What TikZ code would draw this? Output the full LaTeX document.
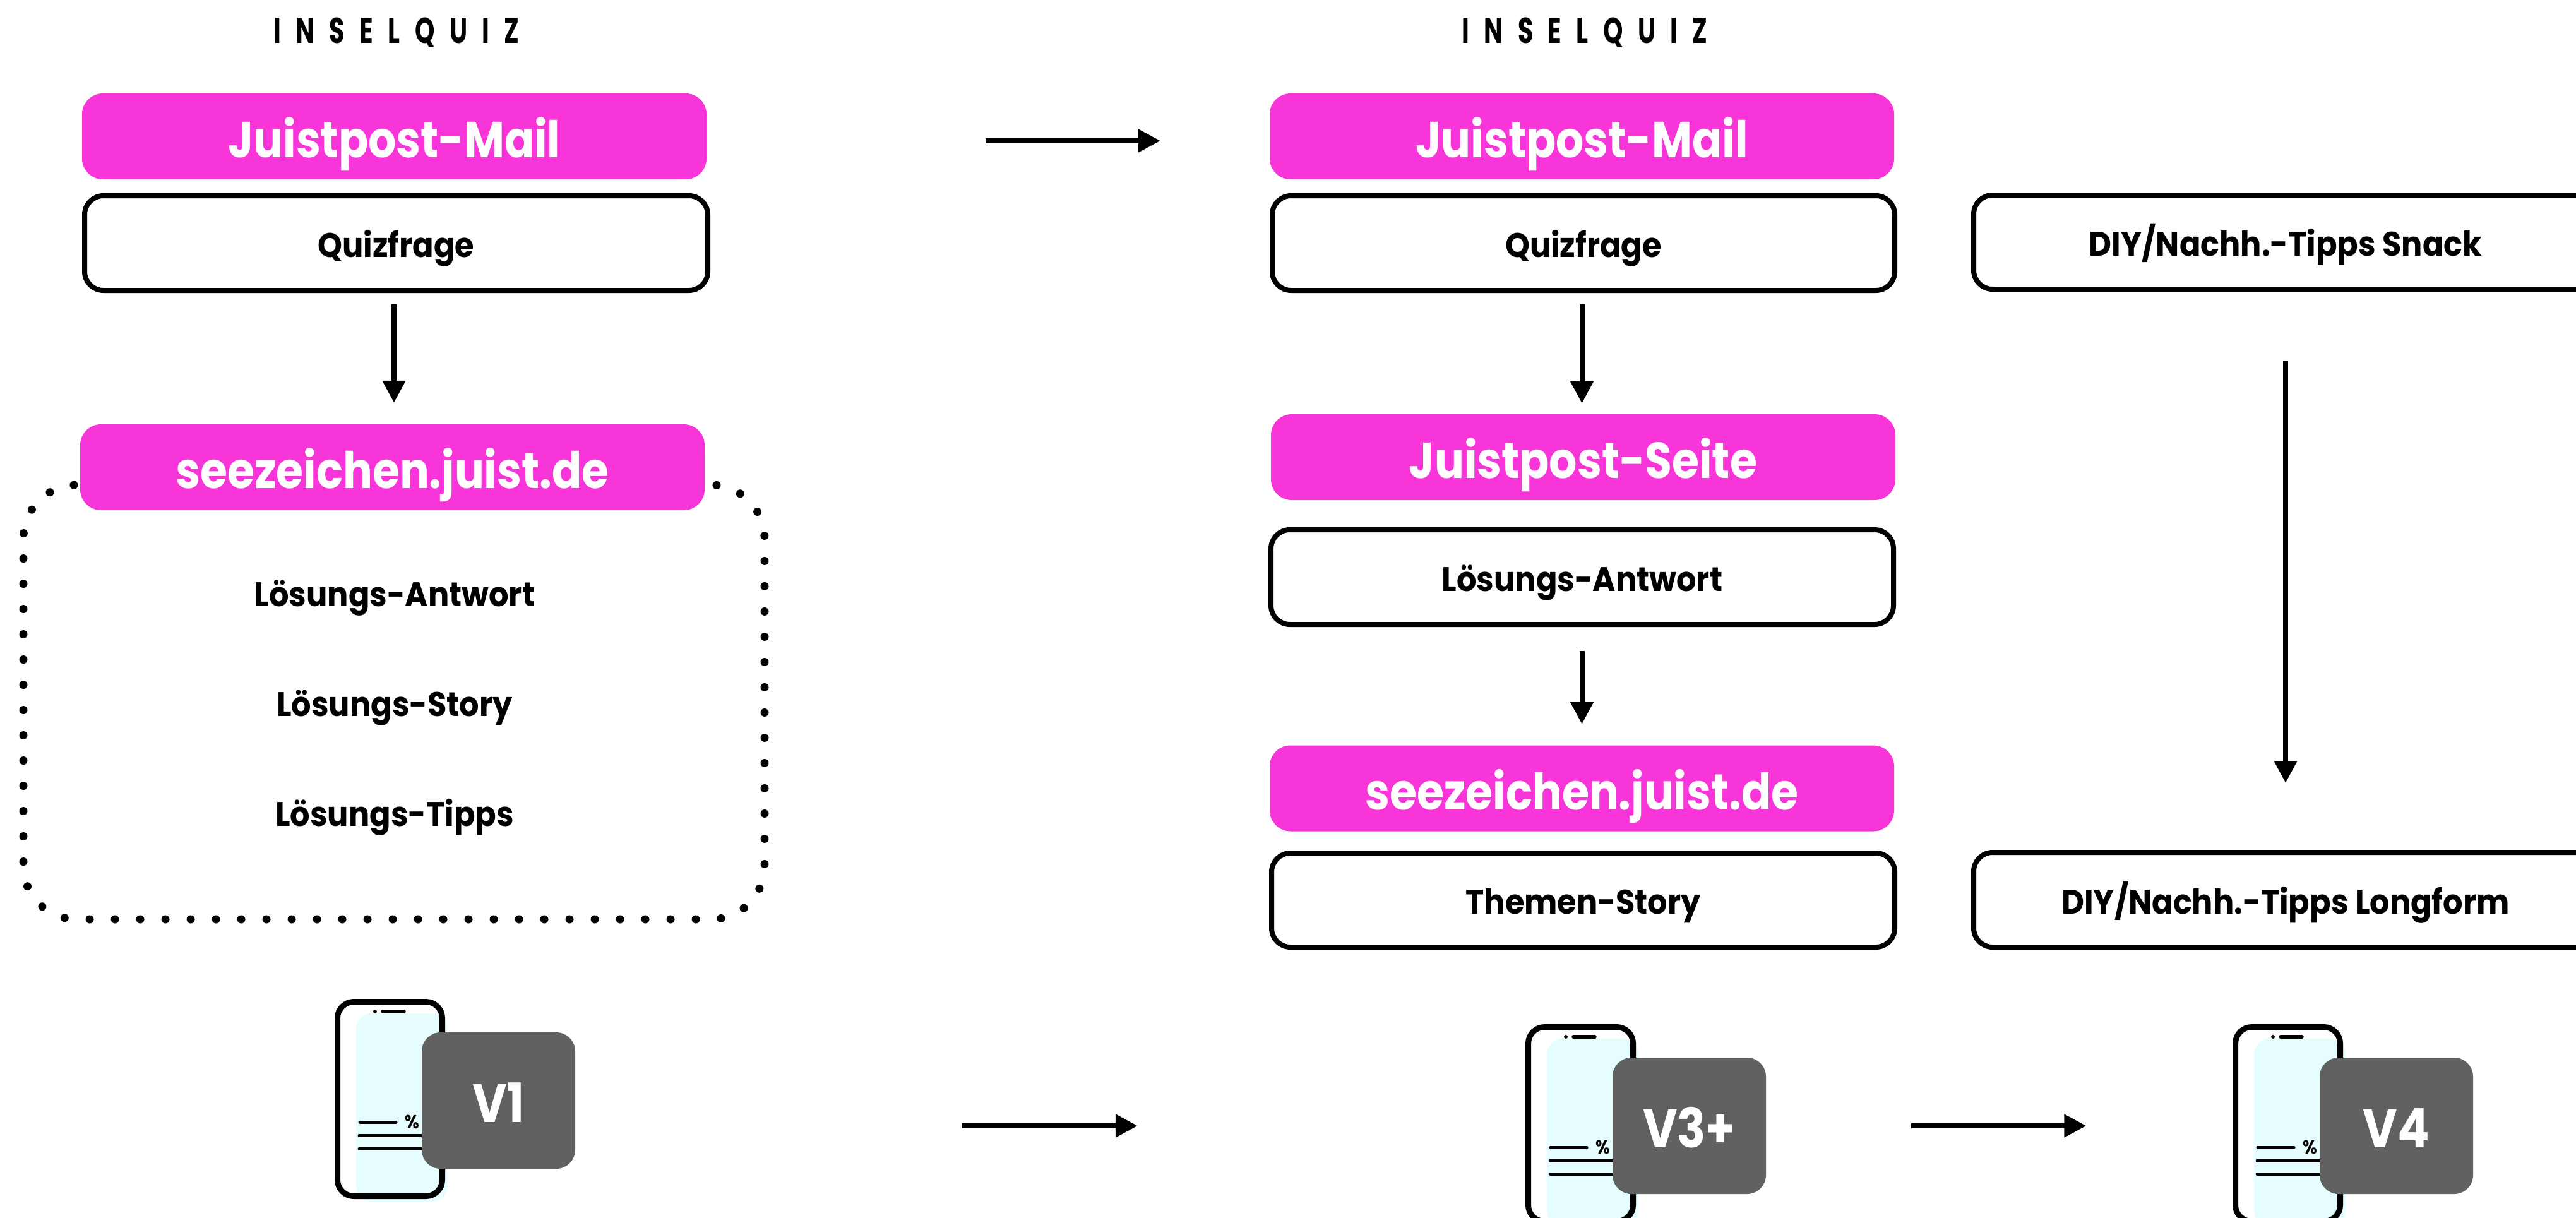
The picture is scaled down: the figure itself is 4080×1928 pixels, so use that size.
\documentclass[tikz,border=0pt]{standalone}
\usepackage{fontspec}
\usetikzlibrary{arrows.meta}
\newfontfamily\popf[FakeStretch=0.87]{Poppins Bold}
\newfontfamily\popb[FakeStretch=0.915]{Poppins Bold}
\newfontfamily\popl[FakeStretch=0.70,LetterSpace=41]{Poppins Bold}
\definecolor{pinkfill}{HTML}{F835D9}
\definecolor{cyanfill}{HTML}{E5FDFE}
\definecolor{greyfill}{HTML}{616161}
\newcommand\pinkfont{\popf\fontsize{80pt}{90pt}\selectfont}
\newcommand\blackfont{\popb\fontsize{54pt}{60pt}\selectfont}
\newcommand\greyfont{\popf\fontsize{86pt}{90pt}\selectfont}
\newcommand\titlefont{\popl\fontsize{57pt}{60pt}\selectfont}
\tikzset{
  pinkbox/.style={rectangle,rounded corners=33pt,fill=pinkfill,draw=none,text=white,
    inner sep=0pt,text height=80pt,text depth=13pt,align=center,font=\pinkfont},
  whitebox/.style={rectangle,rounded corners=30pt,fill=white,draw=black,line width=8pt,text=black,
    inner sep=0pt,text height=60pt,text depth=16pt,align=center,font=\blackfont},
  plainlabel/.style={anchor=base,inner sep=0pt,text=black,font=\blackfont},
  titlelabel/.style={anchor=base,inner sep=0pt,text=black,font=\titlefont},
  flow/.style={draw=black,line width=8pt,-{Triangle[length=35pt,width=35pt]}},
  greybox/.style={rectangle,rounded corners=30pt,fill=greyfill,draw=none,text=white,
    minimum width=243pt,minimum height=216pt,inner sep=0pt,text height=102pt,text depth=34pt,font=\greyfont},
  dotline/.style={draw=black,line width=13pt,line cap=round,dash pattern=on 0pt off 40pt,dash phase=25pt,rounded corners=85pt},
  phoneline/.style={draw=black,line cap=round,line width=5pt},
}
\newcommand\phonegroup[4]{% dx, dy, name, label
  \begin{scope}[shift={(#1,#2)}]
    \path[fill=cyanfill,rounded corners=25pt] (564,1605) rectangle (709,1903);
    \path[draw=black,line width=9pt,rounded corners=26pt] (534.5,1586.5) rectangle (700.5,1894.5);
    \path[fill=black] (594,1602) circle (3pt);
    \path[draw=black,line cap=round,line width=5.5pt] (606,1602) -- (640,1602);
    \path[phoneline] (570,1777) -- (627,1777);
    \path[phoneline] (569,1798) -- (680,1798);
    \path[phoneline] (569,1819) -- (680,1819);
    \node[inner sep=0pt,text=black,font=\popf\fontsize{30pt}{32pt}\selectfont] (#3p) at (653,1777) {\%};
    \node[greybox] (#3) at (789.5,1743) {#4};
  \end{scope}
}
\begin{document}
\begin{tikzpicture}[x=1pt,y=-1pt]
\useasboundingbox (0,0) rectangle (4080,1928);
\clip (0,0) rectangle (4080,1928);
\fill[white] (0,0) rectangle (4080,1928);

% dotted frame, behind the pink bar
\path[dotline] (1120,768) -- (1211,768) -- (1211,1456) -- (37,1456) -- (37,768) -- (130,768);

% titles
\node[titlelabel] (titleA) at (628,68) {INSELQUIZ};
\node[titlelabel] (titleB) at (2510,68) {INSELQUIZ};

% left column
\node[pinkbox,minimum width=989pt,minimum height=136pt] (mailA) at (624.5,216) {Juistpost-Mail};
\node[whitebox,minimum width=987pt,minimum height=150pt] (quizA) at (627.5,385) {Quizfrage};
\node[pinkbox,minimum width=989pt,minimum height=136pt] (seezA) at (621.5,740) {seezeichen.juist.de};
\node[plainlabel] (antA) at (625,960) {Lösungs-Antwort};
\node[plainlabel] (stoA) at (625,1134) {Lösungs-Story};
\node[plainlabel] (tipA) at (625,1308) {Lösungs-Tipps};

% middle column
\node[pinkbox,minimum width=989pt,minimum height=136pt] (mailB) at (2505.5,216) {Juistpost-Mail};
\node[whitebox,minimum width=986pt,minimum height=150pt] (quizB) at (2508,385) {Quizfrage};
\node[pinkbox,minimum width=989pt,minimum height=136pt] (seitB) at (2507.5,724) {Juistpost-Seite};
\node[whitebox,minimum width=986pt,minimum height=150pt] (antB) at (2506,914) {Lösungs-Antwort};
\node[pinkbox,minimum width=989pt,minimum height=136pt] (seezB) at (2505.5,1248.5) {seezeichen.juist.de};
\node[whitebox,minimum width=987pt,minimum height=149pt] (stoB) at (2507.5,1425.5) {Themen-Story};

% right column
\node[whitebox,minimum width=988pt,minimum height=149pt] (snackC) at (3620,383.5) {DIY/Nachh.-Tipps Snack};
\node[whitebox,minimum width=988pt,minimum height=150pt] (longC) at (3620,1425) {DIY/Nachh.-Tipps Longform};

% phones
\phonegroup{0}{0}{vA}{V1}
\phonegroup{1886}{40}{vB}{V3+}
\phonegroup{3006}{40}{vC}{V4}

% connectors
\path[flow,shorten <=18pt,shorten >=34pt] ([xshift=-3.5pt]quizA.south) -- ([xshift=2.5pt]seezA.north);
\path[flow,shorten <=18pt,shorten >=17pt] ([xshift=-2.5pt]quizB.south) -- ([xshift=-2pt]seitB.north);
\path[flow,shorten <=38pt,shorten >=33.5pt] ([xshift=-0.5pt]antB.south) -- (seezB.north);
\path[flow,shorten <=110pt,shorten >=106pt] (snackC.south) -- (longC.north);
\path[flow,shorten <=442pt,shorten >=173pt] ([yshift=-7pt]mailA.east) -- ([yshift=-7pt]mailB.west);
\path[flow,shorten <=613pt,shorten >=752pt] ([yshift=-40pt]vA.east) -- (vB.west);
\path[flow,shorten <=230pt,shorten >=369.5pt] (vB.east) -- (vC.west);
\end{tikzpicture}
\end{document}
